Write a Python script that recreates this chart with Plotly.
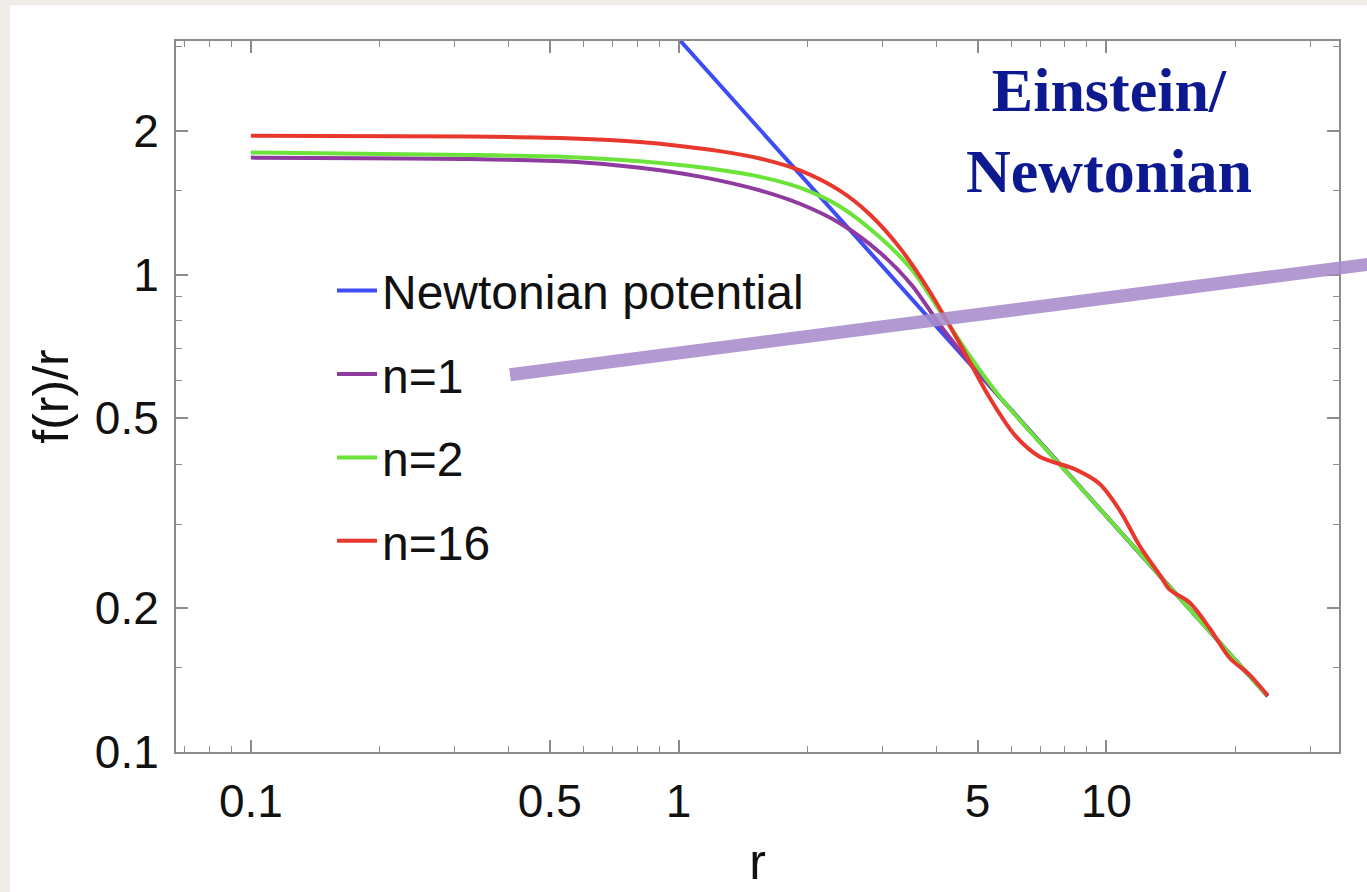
import plotly.graph_objects as go

# ---------------- data ----------------
r_newton = [0.9, 23.84]
v_newton = [3.467, 0.1309]

r_n1 = [0.1, 0.3256, 0.5666, 0.8125, 1.122, 1.549, 1.921, 2.383, 2.955, 3.511,
        4.080, 4.795, 5.636, 7.377, 9.65, 14.07, 23.84]
v_n1 = [1.759, 1.748, 1.724, 1.675, 1.605, 1.502, 1.408, 1.282, 1.113, 0.9506,
        0.7857, 0.6546, 0.5537, 0.4229, 0.3233, 0.2218, 0.1309]

r_n2 = [0.1, 0.3256, 0.5666, 0.8125, 1.122, 1.549, 1.921, 2.383, 2.955, 3.511,
        4.080, 4.795, 5.636, 6.622, 9.65, 14.07, 23.71]
v_n2 = [1.803, 1.782, 1.762, 1.728, 1.679, 1.604, 1.522, 1.390, 1.198, 1.024,
        0.8404, 0.6756, 0.5548, 0.4699, 0.3233, 0.2218, 0.1316]

r_n16 = [0.1, 0.3256, 0.5666, 0.8125, 1.0075, 1.249, 1.549, 1.921, 2.383, 2.801,
         3.291, 3.867, 4.545, 5.341, 6.109, 6.988, 8.439, 9.652, 10.75, 11.97,
         13.33, 14.07, 15.66, 17.44, 19.43, 21.63, 23.84]
v_n16 = [1.955, 1.947, 1.929, 1.897, 1.861, 1.815, 1.752, 1.654, 1.500, 1.337,
         1.138, 0.9211, 0.7167, 0.5516, 0.4612, 0.4154, 0.3914, 0.3645, 0.3209, 0.2701,
         0.2351, 0.2189, 0.2057, 0.1817, 0.1574, 0.1451, 0.1313]

series_names = ["Newtonian potential", "n=1", "n=2", "n=16"]

x_tick_vals = [0.1, 0.5, 1, 5, 10]
x_tick_text = ["0.1", "0.5", "1", "5", "10"]
x_minor_vals = [0.07, 0.08, 0.09, 0.2, 0.3, 0.4, 0.6, 0.7, 0.8, 0.9,
                2, 3, 4, 6, 7, 8, 9, 20, 30]
y_tick_vals = [0.1, 0.2, 0.5, 1, 2]
y_tick_text = ["0.1", "0.2", "0.5", "1", "2"]
y_minor_vals = [0.15, 0.3, 0.4, 0.6, 0.7, 0.8, 0.9, 1.5, 3]

# ---------------- layout constants ----------------
W, H = 1367, 892
PL, PR, PT, PB = 176, 1339, 41, 759          # plot-area pixel box
PW, PH = PR - PL, PB - PT


def px_x(p):
    return (p - PL) / PW


def px_y(p):
    return (PB - p) / PH


colors = ["#3d4cf5", "#8e3a9e", "#6be33a", "#e8382e"]
xs = [r_newton, r_n1, r_n2, r_n16]
ys = [v_newton, v_n1, v_n2, v_n16]

fig = go.Figure()
for i, (xv, yv) in enumerate(zip(xs, ys)):
    fig.add_trace(go.Scatter(
        x=xv, y=yv, mode="lines", name=series_names[i],
        legendgroup=f"g{i}",
        line=dict(color=colors[i], width=4, shape="spline", smoothing=0.85),
    ))

sans = "Liberation Sans, Arial, sans-serif"
axis_font = dict(family=sans, size=46, color="#111111")
frame_col = "#8c8c8c"

fig.update_xaxes(
    type="log", range=[-1.175, 1.544],
    tickvals=x_tick_vals, ticktext=x_tick_text,
    ticks="inside", ticklen=12, tickwidth=1.6, tickcolor=frame_col,
    minor=dict(tickvals=x_minor_vals, ticks="inside", ticklen=6,
               tickwidth=1.4, tickcolor=frame_col),
    showline=True, linecolor=frame_col, linewidth=2, mirror="allticks",
    showgrid=False, zeroline=False,
    tickfont=axis_font, ticklabelstandoff=8,
    title=dict(text="r", font=dict(family=sans, size=50, color="#111111"), standoff=18),
)
fig.update_yaxes(
    type="log", range=[-1, 0.4896],
    tickvals=y_tick_vals, ticktext=y_tick_text,
    ticks="inside", ticklen=12, tickwidth=1.6, tickcolor=frame_col,
    minor=dict(tickvals=y_minor_vals, ticks="inside", ticklen=6,
               tickwidth=1.4, tickcolor=frame_col),
    showline=True, linecolor=frame_col, linewidth=2, mirror="allticks",
    showgrid=False, zeroline=False,
    tickfont=axis_font, ticklabelstandoff=6,
    title=dict(text="f(r)/r", font=dict(family=sans, size=50, color="#111111"), standoff=10),
)

fig.update_layout(
    width=W, height=H,
    margin=dict(l=PL, r=W - PR, t=PT, b=H - PB, pad=0),
    paper_bgcolor="#efece8",
    plot_bgcolor="white",
    showlegend=True,
    legend=dict(
        x=px_x(332), y=px_y(255), xanchor="left", yanchor="top",
        bgcolor="rgba(0,0,0,0)", borderwidth=0,
        font=dict(family=sans, size=48, color="#111111"),
        traceorder="grouped", tracegroupgap=18, itemwidth=40,
    ),
    shapes=[
        # white page area over the grey outer border
        dict(type="rect", xref="paper", yref="paper",
             x0=px_x(10), x1=px_x(W + 20), y0=px_y(H + 20), y1=px_y(5),
             fillcolor="white", line=dict(width=0), layer="below"),
        # hand-drawn lavender stroke
        dict(type="line", xref="paper", yref="paper",
             x0=px_x(510), y0=px_y(378), x1=px_x(W + 5), y1=px_y(266),
             line=dict(color="#a88ccb", width=13), opacity=0.88, layer="above"),
    ],
    annotations=[
        dict(text="Einstein/<br>Newtonian", xref="paper", yref="paper",
             x=px_x(1109), y=px_y(131), xanchor="center", yanchor="middle",
             showarrow=False, align="center",
             font=dict(family="Liberation Serif, Times New Roman, serif", size=62,
                       color="#0d1a8f", weight="bold")),
    ],
)

fig.write_html("out.html", config={"displayModeBar": False},
               post_script="document.body.style.margin='0';")
